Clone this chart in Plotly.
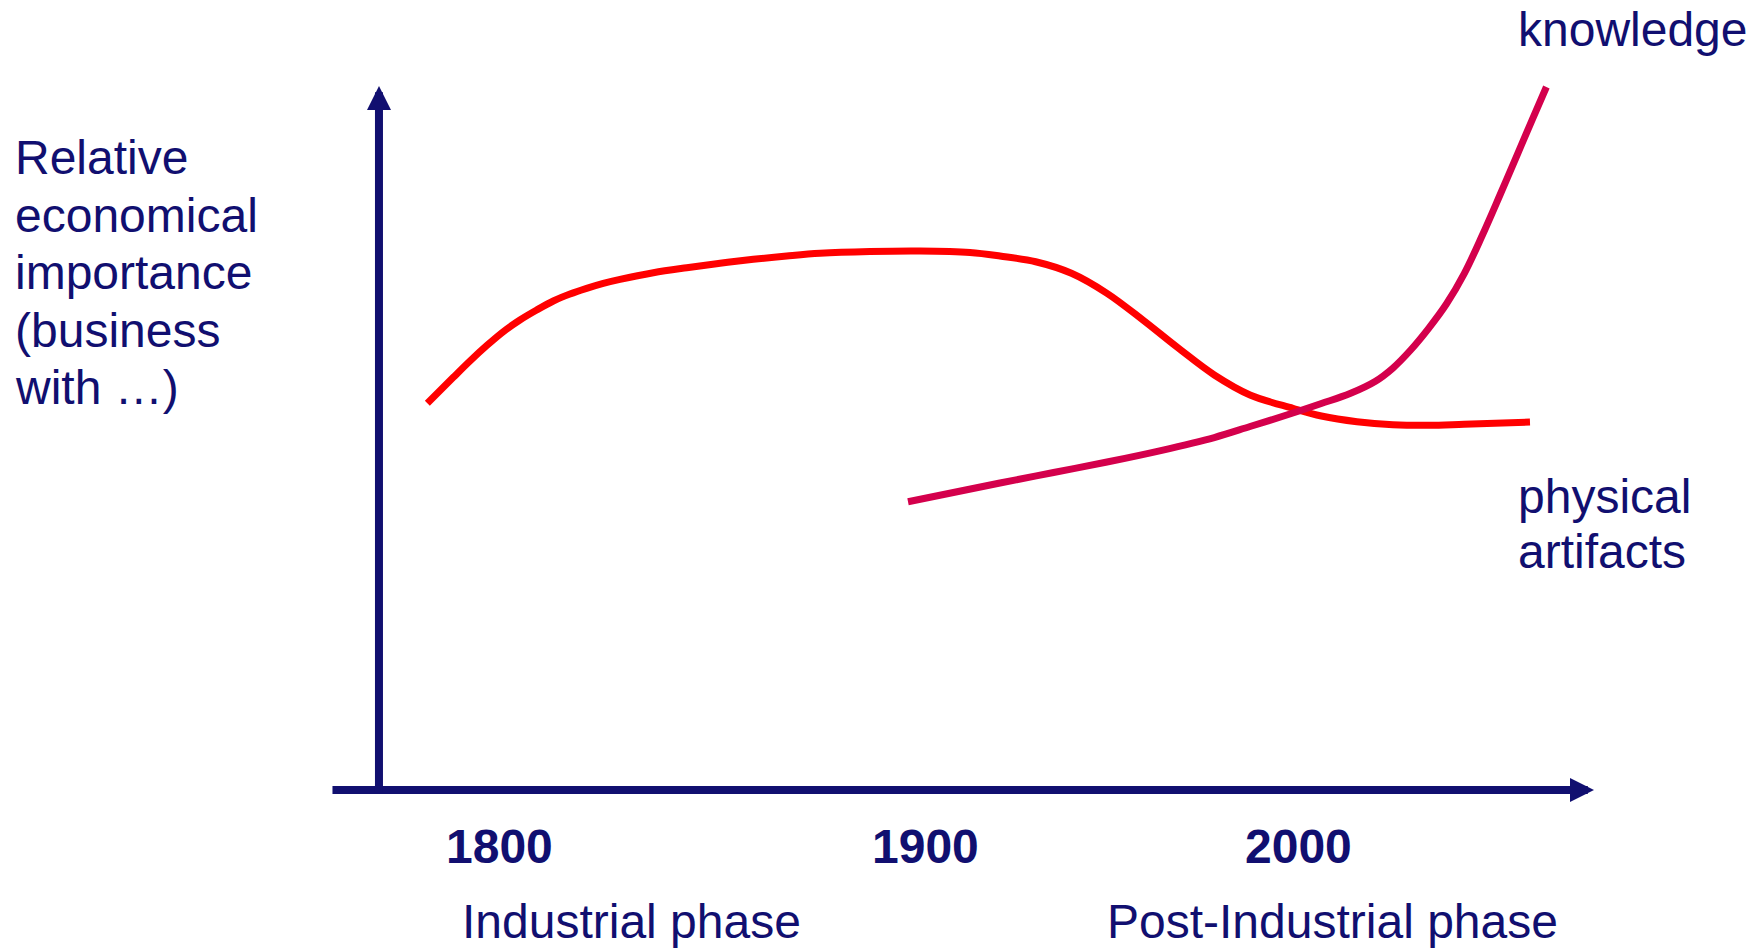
import plotly.graph_objects as go

# Time runs along a schematic axis: 0 = origin, 100 = tip of the arrow.
# Importance runs from 0 (time axis) to 100 (tip of the vertical arrow).
physical_t = [3.98, 6.12, 7.49, 8.86, 10.23, 11.60, 12.98, 14.35, 15.72, 17.09,
              18.46, 19.84, 22.58, 25.33, 28.07, 30.81, 33.56, 36.30, 40.41, 44.53,
              48.64, 51.11, 54.05, 56.99, 59.92, 62.87, 65.81, 68.75, 71.69, 75.22,
              77.56, 80.49, 83.45, 86.39, 89.30, 94.73]
physical_v = [54.93, 58.62, 60.94, 63.11, 65.10, 66.76, 68.18, 69.46, 70.45, 71.26,
              71.97, 72.54, 73.48, 74.19, 74.82, 75.38, 75.85, 76.24, 76.49, 76.56,
              76.35, 75.85, 75.04, 73.40, 70.55, 66.76, 62.74, 58.95, 56.11, 54.22,
              53.13, 52.32, 51.89, 51.80, 51.95, 52.27]

knowledge_t = [43.54, 51.11, 55.52, 59.92, 64.34, 68.75, 71.69, 75.22, 77.56, 79.92,
               81.98, 83.45, 84.91, 86.39, 87.85, 89.33, 90.78, 92.26, 93.74, 94.90,
               96.08]
knowledge_v = [40.95, 43.61, 45.10, 46.59, 48.22, 50.07, 51.63, 53.55, 54.90, 56.32,
               58.03, 59.94, 62.50, 65.58, 69.03, 73.39, 78.69, 84.52, 90.48, 95.17,
               99.86]

year_labels = ["1800", "1900", "2000"]
year_pos = [9.9, 45.0, 75.7]

phase_labels = ["Industrial phase", "Post-Industrial phase"]
phase_pos = [20.8, 78.5]

y_title_lines = ["Relative", "economical", "importance", "(business", "with \u2026)"]

NAVY = "#110F70"
RED = "#FF0000"
CRIMSON = "#D4004C"
FONT = "Liberation Sans, Arial, sans-serif"
FS = 48

fig = go.Figure()

fig.add_trace(go.Scatter(
    x=physical_t, y=physical_v, mode="lines", name="physical artifacts",
    line=dict(color=RED, width=7, shape="spline", smoothing=1.0),
    hoverinfo="skip"))
fig.add_trace(go.Scatter(
    x=knowledge_t, y=knowledge_v, mode="lines", name="knowledge",
    line=dict(color=CRIMSON, width=7, shape="spline", smoothing=1.0),
    hoverinfo="skip"))

annotations = []

# axes drawn as arrows (tip, tail)
axis_arrows = [((100, 0), (-3.95, 0)), ((0, 100), (0, -0.6))]
for (tx, ty), (sx, sy) in axis_arrows:
    annotations.append(dict(
        x=tx, y=ty, ax=sx, ay=sy, xref="x", yref="y", axref="x", ayref="y",
        text="", showarrow=True, arrowhead=2, arrowsize=0.6, arrowwidth=8,
        arrowcolor=NAVY, standoff=0, startstandoff=0))

# year labels under the time axis
for lab, pos in zip(year_labels, year_pos):
    annotations.append(dict(
        x=pos, y=-7.97, xref="x", yref="y", text="<b>" + lab + "</b>",
        showarrow=False, xanchor="center", yanchor="middle",
        font=dict(family=FONT, size=FS, color=NAVY)))

# phase labels
for lab, pos in zip(phase_labels, phase_pos):
    annotations.append(dict(
        x=pos, y=-18.7, xref="x", yref="y", text=lab,
        showarrow=False, xanchor="center", yanchor="middle", borderpad=0,
        font=dict(family=FONT, size=FS, color=NAVY)))

# vertical axis title, one line per annotation
for i, line in enumerate(y_title_lines):
    annotations.append(dict(
        x=-30.1, y=89.82 - i * 8.17, xref="x", yref="y", text=line,
        showarrow=False, xanchor="left", yanchor="middle",
        font=dict(family=FONT, size=FS, color=NAVY)))

# series labels
annotations.append(dict(
    x=93.6, y=108.0, xref="x", yref="y", text="knowledge",
    showarrow=False, xanchor="left", yanchor="middle",
    font=dict(family=FONT, size=FS, color=NAVY)))
for i, line in enumerate(["physical", "artifacts"]):
    annotations.append(dict(
        x=93.6, y=41.7 - i * 7.81, xref="x", yref="y", text=line,
        showarrow=False, xanchor="left", yanchor="middle",
        font=dict(family=FONT, size=FS, color=NAVY)))

fig.update_layout(
    width=1764, height=950,
    margin=dict(l=0, r=0, t=0, b=0),
    paper_bgcolor="white", plot_bgcolor="white",
    showlegend=False, hovermode=False,
    xaxis=dict(range=[-31.19, 113.99], visible=False, fixedrange=True),
    yaxis=dict(range=[-22.73, 112.22], visible=False, fixedrange=True),
    annotations=annotations,
)

fig.write_html("out.html", config={"displayModeBar": False})
